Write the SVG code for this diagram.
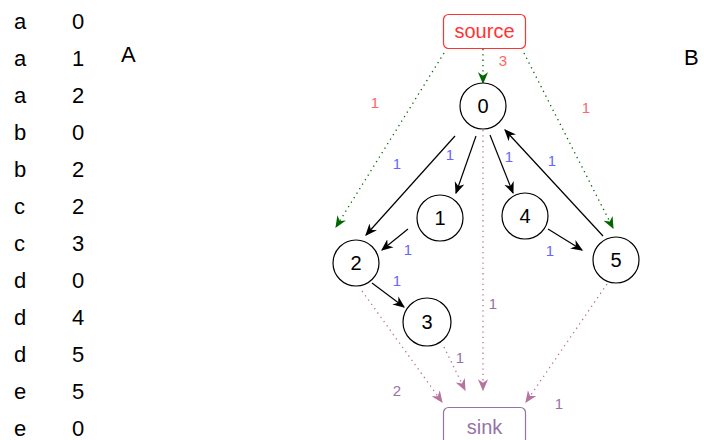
<svg xmlns="http://www.w3.org/2000/svg" width="704" height="440" viewBox="0 0 704 440">
<style>
.t{font-family:"Liberation Sans",Arial,sans-serif;}
.col{font-size:22px;fill:#000;}
.node circle{fill:#fff;stroke:#000;stroke-width:1.2;}
.node text{font-size:20px;fill:#000;text-anchor:middle;}
.solid{stroke:#000;stroke-width:1.2;fill:none;marker-end:url(#ab);}
.green{stroke:#006600;stroke-width:1.3;fill:none;stroke-dasharray:1.3 4;marker-end:url(#ag);}
.pink{stroke:#B5739D;stroke-width:1.3;fill:none;stroke-dasharray:1.3 4;marker-end:url(#ap);}
.lr{font-size:15px;fill:#FF6666;text-anchor:middle;}
.lb{font-size:15px;fill:#6666FF;text-anchor:middle;}
.lp{font-size:15px;fill:#9673A6;text-anchor:middle;}
</style>
<defs>
<marker id="ab" viewBox="0 0 10 10" refX="9" refY="5" markerWidth="12" markerHeight="12" markerUnits="userSpaceOnUse" orient="auto"><path d="M0,0.8 L10,5 L0,9.2 L3,5 Z" fill="#000"/></marker>
<marker id="ag" viewBox="0 0 10 10" refX="9" refY="5" markerWidth="12" markerHeight="12" markerUnits="userSpaceOnUse" orient="auto"><path d="M0,0.8 L10,5 L0,9.2 L3,5 Z" fill="#006600"/></marker>
<marker id="ap" viewBox="0 0 10 10" refX="9" refY="5" markerWidth="12" markerHeight="12" markerUnits="userSpaceOnUse" orient="auto"><path d="M0,0.8 L10,5 L0,9.2 L3,5 Z" fill="#B5739D"/></marker>
</defs>
<rect width="704" height="440" fill="#fff"/>
<g id="table" class="t col">
<text x="14" y="29">a</text><text x="72" y="29">0</text>
<text x="14" y="66">a</text><text x="72" y="66">1</text>
<text x="14" y="103">a</text><text x="72" y="103">2</text>
<text x="14" y="140">b</text><text x="72" y="140">0</text>
<text x="14" y="177">b</text><text x="72" y="177">2</text>
<text x="14" y="214">c</text><text x="72" y="214">2</text>
<text x="14" y="251">c</text><text x="72" y="251">3</text>
<text x="14" y="288">d</text><text x="72" y="288">0</text>
<text x="14" y="325">d</text><text x="72" y="325">4</text>
<text x="14" y="362">d</text><text x="72" y="362">5</text>
<text x="14" y="399">e</text><text x="72" y="399">5</text>
<text x="14" y="436">e</text><text x="72" y="436">0</text>
<text x="121" y="62">A</text>
<text x="684" y="65">B</text>
</g>
<g id="connectors">
<line class="green" x1="483" y1="49" x2="483" y2="83"/>
<line class="green" x1="444" y1="53" x2="336" y2="227"/>
<line class="green" x1="524" y1="53" x2="613" y2="228"/>
<line class="solid" x1="455" y1="136" x2="366" y2="235"/>
<line class="solid" x1="476" y1="136" x2="456" y2="193"/>
<line class="solid" x1="490" y1="135" x2="513" y2="193"/>
<line class="solid" x1="603" y1="236" x2="505" y2="130"/>
<line class="solid" x1="548" y1="229" x2="582" y2="250"/>
<line class="solid" x1="408" y1="229" x2="382" y2="250"/>
<line class="solid" x1="372" y1="283" x2="404" y2="307"/>
<line class="pink" x1="483" y1="130" x2="483" y2="390"/>
<line class="pink" x1="362" y1="291" x2="442" y2="402"/>
<line class="pink" x1="444" y1="347" x2="465" y2="390"/>
<line class="pink" x1="607" y1="284" x2="526" y2="402"/>
<g class="t">
<text class="lr" x="503" y="66">3</text>
<text class="lr" x="375" y="108">1</text>
<text class="lr" x="586" y="113">1</text>
<text class="lb" x="397" y="169">1</text>
<text class="lb" x="450" y="160">1</text>
<text class="lb" x="509" y="162">1</text>
<text class="lb" x="552" y="166">1</text>
<text class="lb" x="550" y="256">1</text>
<text class="lb" x="408" y="255">1</text>
<text class="lb" x="397" y="286">1</text>
<text class="lp" x="493" y="309">1</text>
<text class="lp" x="460" y="363">1</text>
<text class="lp" x="397" y="396">2</text>
<text class="lp" x="559" y="409">1</text>
</g>
</g>
<g id="source"><rect x="443.5" y="14.5" width="82" height="34" rx="5" fill="#fff" stroke="#FF3333" stroke-width="1.2"/><text class="t" x="484.5" y="38" font-size="20" fill="#FF3333" text-anchor="middle">source</text></g>
<g id="sink"><rect x="443.5" y="407.5" width="82" height="40" rx="5" fill="#fff" stroke="#9673A6" stroke-width="1.2"/><text class="t" x="484.5" y="434" font-size="20" fill="#9673A6" text-anchor="middle">sink</text></g>
<g id="n0" class="node t"><circle cx="483" cy="106" r="23"/><text x="483" y="113">0</text></g>
<g id="n1" class="node t"><circle cx="440" cy="218" r="23"/><text x="440" y="225">1</text></g>
<g id="n2" class="node t"><circle cx="356" cy="263" r="23"/><text x="356" y="270">2</text></g>
<g id="n3" class="node t"><circle cx="427" cy="322" r="24"/><text x="427" y="329">3</text></g>
<g id="n4" class="node t"><circle cx="525" cy="216" r="23"/><text x="525" y="223">4</text></g>
<g id="n5" class="node t"><circle cx="616" cy="260" r="23"/><text x="616" y="267">5</text></g>
</svg>
